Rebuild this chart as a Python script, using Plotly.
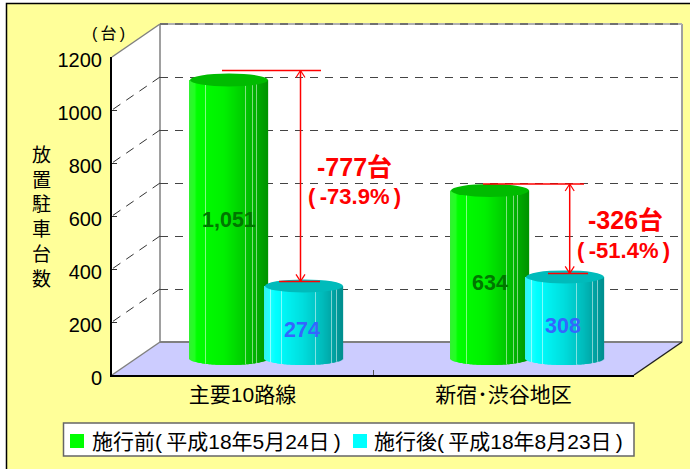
import plotly.graph_objects as go

categories = ["主要10路線", "新宿･渋谷地区"]
before_values = [1051, 634]
after_values = [274, 308]
before_labels = ["1,051", "634"]
after_labels = ["274", "308"]
y_ticks = [0, 200, 400, 600, 800, 1000, 1200]
series_names = ["施行前(\u2009平成18年5月24日\u2009)", "施行後(\u2009平成18年8月23日\u2009)"]
diff_labels = ["-777台", "-326台"]
pct_labels = ["(\u2009-73.9%\u2009)", "(\u2009-51.4%\u2009)"]

W, H = 690, 469
FONT = "Liberation Sans, Noto Sans CJK JP, sans-serif"
UNIT = 318 / 1200          # px per vehicle
CAT = 261                  # px per category
CAP = 6.5                  # px half height of the ellipse

def px(x): return x / W
def py(y): return 1 - y / H
def dom_x(a, b): return [px(a), px(b)]
def dom_y(bottom, top): return [py(bottom), py(top)]

def hexrgb(h): return tuple(int(h[i:i + 2], 16) for i in (1, 3, 5))

def ramp(stops, f):
    for (a, ca), (b, cb) in zip(stops, stops[1:]):
        if f <= b:
            t = (f - a) / (b - a)
            ra, rb = hexrgb(ca), hexrgb(cb)
            return tuple(round(p + (q - p) * t) for p, q in zip(ra, rb))
    return hexrgb(stops[-1][1])

GREEN = [(0, "#33F033"), (0.07, "#22FF22"), (0.1, "#00FF00"), (0.45, "#00F000"), (0.7, "#00CC00"), (1, "#009400")]
CYAN = [(0, "#33F0F0"), (0.07, "#22FFFF"), (0.15, "#00FFFF"), (0.5, "#00DDDD"), (0.75, "#00BBBB"), (1, "#008F8F")]
GREEN_HI = [0.21, 0.72, 0.81, 0.86]
CYAN_HI = [0.08, 0.22, 0.66, 0.87, 0.93]

def cylinder(values, side, stops, highlights):
    xs, bases, heights, colors = [], [], [], []
    n = 78
    for i, v in enumerate(values):
        for k in range(n):
            f = (k + 0.5) / n
            u = 2 * f - 1
            drop = CAP * (1 - u * u) ** 0.5 / UNIT
            xs.append(i + side * 37.5 / CAT + u * 39 / CAT)
            bases.append(-drop)
            heights.append(v + drop)
            c = ramp(stops, f)
            if any(abs(f - h) < 0.5 / n for h in highlights):
                c = tuple(min(255, p + (255 - p) // 2) for p in c)
            colors.append("rgb(%d,%d,%d)" % c)
    return go.Bar(x=xs, y=heights, base=bases, width=1.3 / CAT, marker=dict(color=colors, line=dict(width=0)),
                  xaxis="x3", yaxis="y3", hoverinfo="skip", showlegend=False)

fig = go.Figure()
fig.add_trace(go.Scatter(x=categories, y=[None, None], xaxis="x", yaxis="y", showlegend=False, hoverinfo="skip"))
fig.add_trace(go.Scatter(x=categories, y=[None, None], xaxis="x2", yaxis="y2", showlegend=False, hoverinfo="skip"))
fig.add_trace(go.Scatter(x=categories, y=[None, None], xaxis="x2", yaxis="y4", showlegend=False, hoverinfo="skip"))
fig.add_trace(cylinder(before_values, -1, GREEN, GREEN_HI))
fig.add_trace(cylinder(after_values, 1, CYAN, CYAN_HI))

shapes = []
def rect(x0, y0, x1, y1, fill, line=None, lw=1):
    shapes.append(dict(type="rect", xref="paper", yref="paper", x0=px(x0), x1=px(x1), y0=py(y0), y1=py(y1),
                       fillcolor=fill, line=dict(color=line or fill, width=lw if line else 0), layer="below"))
def poly(points, fill, layer="below"):
    shapes.append(dict(type="path", xref="paper", yref="paper", layer=layer, fillcolor=fill, line=dict(width=0),
                       path="M" + "L".join(f"{px(a)},{py(b)}" for a, b in points) + "Z"))
def seg(x0, y0, x1, y1, color, width=1, dash="solid", layer="below"):
    shapes.append(dict(type="line", xref="paper", yref="paper", layer=layer, x0=px(x0), x1=px(x1), y0=py(y0), y1=py(y1),
                       line=dict(color=color, width=width, dash=dash)))

rect(6.5, 3.5, 720, 500, "#FFFF99", "#000000", 1.5)
poly([(112, 57), (160, 24), (160, 342), (112, 375)], "#FFFFFF")
rect(160, 24, 682, 342, "#FFFFFF")
poly([(112, 375), (160, 342), (682, 342), (634, 375)], "#CCCCFF")
seg(112, 57, 160, 24, "#808080", 1.5)
seg(112, 375, 160, 342, "#808080", 1.5)
seg(160, 24, 160, 342, "#808080", 1.5)
seg(682, 24, 682, 342, "#A0A0A0", 2)
seg(160, 342, 682, 342, "#808080", 2)
seg(160, 24, 682, 24, "#B0B0B0", 2)
seg(160, 24, 682, 24, "#707070", 2, "8px,7px")
seg(634, 375, 682, 342, "#202020", 1.5)
for v in y_ticks[1:-1]:
    y = 375 - v * UNIT
    seg(160, y - 33, 112, y, "#333333", 1, "9px,7px")

for vals, col in ((before_values, "#00BB00"), (after_values, "#00BBBB")):
    side = -1 if col == "#00BB00" else 1
    for i, v in enumerate(vals):
        c = i + side * 37.5 / CAT
        shapes.append(dict(type="circle", xref="x3", yref="y3", layer="above", fillcolor=col, line=dict(width=0),
                           x0=c - 39 / CAT, x1=c + 39 / CAT, y0=v - CAP / UNIT, y1=v + CAP / UNIT))

def bar_y(v): return 358.5 - v * UNIT
RED = "#FF0000"
for top, bottom, x, (t0, t1), (b0, b1), top_off, bot_off in (
    (before_values[0], after_values[0], 300.5, (222, 321), (279, 320), -9.5, -4.5),
    (before_values[1], after_values[1], 569.7, (483, 584), (548, 588), -6.5, -3.5),
):
    yt, yb = bar_y(top) + top_off, bar_y(bottom) + bot_off
    seg(t0, yt, t1, yt, RED, 1.5, layer="above")
    seg(b0, yb, b1, yb, RED, 1.5, layer="above")
    seg(x, yt, x, yb, RED, 1.5, layer="above")
    seg(x - 4.5, yt + 7, x, yt, RED, 1.2, layer="above")
    seg(x + 4.5, yt + 7, x, yt, RED, 1.2, layer="above")
    seg(x - 4.5, yb - 7, x, yb, RED, 1.2, layer="above")
    seg(x + 4.5, yb - 7, x, yb, RED, 1.2, layer="above")

rect(63.5, 423, 634, 456, "#FFFFFF", "#666666", 1.5)
shapes[-1]["layer"] = "above"
rect(70, 434, 84, 448, "#00FF00"); shapes[-1]["layer"] = "above"
rect(353, 434, 367, 448, "#00FFFF"); shapes[-1]["layer"] = "above"

ann = []
def text(x, y, s, size, color="#000000", bold=False, anchor="center"):
    ann.append(dict(xref="paper", yref="paper", x=px(x), y=py(y), text=f"<b>{s}</b>" if bold else s, showarrow=False,
                    xanchor=anchor, yanchor="middle", font=dict(family=FONT, size=size, color=color)))

text(108, 33, "(\u2009台\u2009)", 16)
text(41, 217, "<br>".join("放置駐車台数"), 19)
text(354, 167, diff_labels[0], 25, RED, True)
text(354, 196, pct_labels[0], 22, RED, True)
text(625, 220, diff_labels[1], 25, RED, True)
text(623.5, 250, pct_labels[1], 22, RED, True)
text(89.5, 441.5, series_names[0], 21, anchor="left")
text(371.5, 441.5, series_names[1], 21, anchor="left")

for i, (lab, v, shift) in enumerate(zip(before_labels, before_values, (1, 8))):
    ann.append(dict(xref="x3", yref="y3", x=i - 37.5 / CAT, y=v / 2, yshift=-shift, text=f"<b>{lab}</b>", showarrow=False,
                    font=dict(family=FONT, size=21.5, color="#007700")))
for i, (lab, v) in enumerate(zip(after_labels, after_values)):
    ann.append(dict(xref="x3", yref="y3", x=i + 37.5 / CAT - 2 / CAT, y=v / 2, yshift=-8, text=f"<b>{lab}</b>", showarrow=False,
                    font=dict(family=FONT, size=21.5, color="#3366FF")))

hidden = dict(visible=False, fixedrange=True, automargin=False)
fig.update_layout(
    width=W, height=H, margin=dict(l=0, r=0, t=0, b=0), showlegend=False,
    paper_bgcolor="#FFFFFF", plot_bgcolor="rgba(0,0,0,0)", barmode="overlay",
    shapes=shapes, annotations=ann,
    xaxis=dict(domain=dom_x(160, 682), type="category", categoryorder="array", categoryarray=categories,
               range=[-0.5, 1.5], anchor="y", **hidden),
    yaxis=dict(domain=dom_y(342, 24), range=[0, 1200], anchor="x", tickvals=y_ticks[1:-1], showgrid=True, gridcolor="#444444",
               gridwidth=1, griddash="8px,7px", showticklabels=False, zeroline=False, showline=False, ticks="", fixedrange=True, automargin=False),
    xaxis2=dict(domain=dom_x(112, 634), type="category", categoryorder="array", categoryarray=categories,
                range=[-0.5, 1.5], anchor="y4", showline=True, linecolor="#000000", linewidth=1.5, ticks="inside", ticklen=5,
                tickcolor="#555555", tickson="boundaries", showgrid=False, tickfont=dict(family=FONT, size=21, color="#000000"),
                ticklabelstandoff=0, fixedrange=True, automargin=False),
    # tick labels sit 3px below their ticks in the reference
    yaxis2=dict(domain=dom_y(378, 60), range=[0, 1200], anchor="x2", tickvals=y_ticks, showgrid=False, zeroline=False, showline=False,
                ticks="", tickfont=dict(family=FONT, size=20, color="#000000"), ticklabelstandoff=9, fixedrange=True, automargin=False),
    yaxis4=dict(domain=dom_y(375, 57), range=[0, 1200], anchor="x2", tickvals=y_ticks, showgrid=False, zeroline=False, showline=True,
                linecolor="#000000", linewidth=1.5, ticks="inside", ticklen=5, tickcolor="#333333", showticklabels=False,
                fixedrange=True, automargin=False),
    xaxis3=dict(domain=dom_x(136, 658), range=[-0.5, 1.5], anchor="y3", **hidden),
    yaxis3=dict(domain=dom_y(358.5 + 53 * UNIT, 40.5), range=[-53, 1200], anchor="x3", **hidden),
)
fig.write_html("out.html", config=dict(displayModeBar=False),
               post_script="document.body.style.margin='0';document.documentElement.style.overflow='hidden';")
